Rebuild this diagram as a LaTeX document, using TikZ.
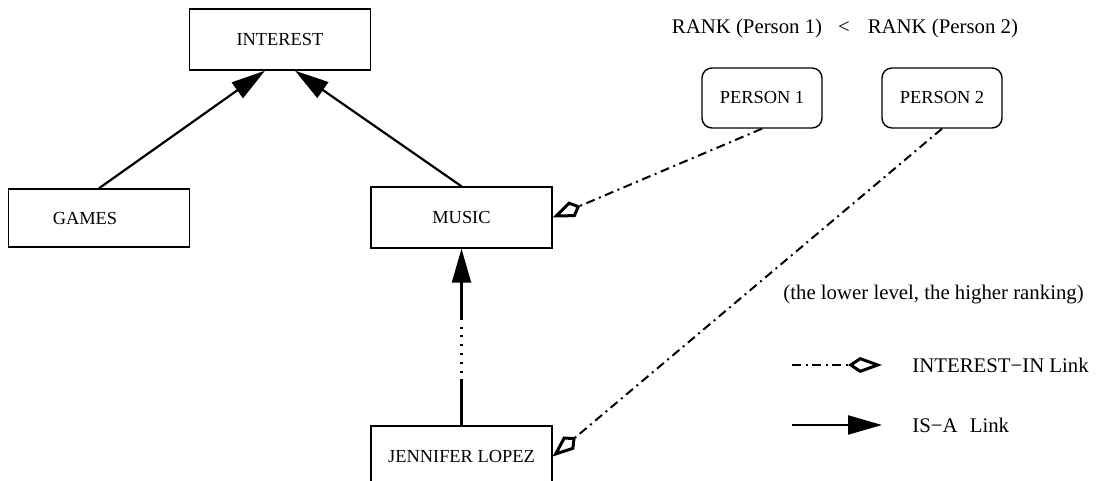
\documentclass[tikz,border=0pt]{standalone}
\usepackage{fontspec}
\setmainfont{Liberation Serif}
\usetikzlibrary{arrows.meta}
\begin{document}
\begin{tikzpicture}[x=0.5pt,y=-0.5pt,
  box/.style={draw, line width=0.7pt, rectangle, minimum width=90.5pt,
    minimum height=30.5pt, inner sep=0pt, font=\fontsize{9.2}{11}\selectfont},
  person/.style={box, rounded corners=5pt, minimum width=60pt, minimum height=30pt},
  txt/.style={inner sep=0pt, font=\fontsize{10.4}{12}\selectfont},
  isa/.style={line width=1.1pt, -{Triangle[length=17pt, width=9.5pt]}},
  interestin/.style={line width=1pt,
    dash pattern=on 4.5pt off 2.3pt on 1pt off 2.3pt,
    -{Kite[open, length=15pt, width=8.5pt, inset=4.5pt, line width=1.5pt]}},
  partial/.style={line width=1.1pt,
    dash pattern=on 23pt off 3.4pt on 1pt off 3.4pt on 1pt off 3.4pt
      on 1pt off 3.4pt on 1pt off 3.4pt on 1pt off 3.4pt on 1pt
      off 3.4pt on 200pt,
    -{Triangle[length=17pt, width=9.5pt]}},
]
% canvas
\fill[white] (0,0) rectangle (1110,481);
\useasboundingbox (0,0) rectangle (1110,481);

% concept hierarchy
\node[box] (interest) at (280,39.5) {INTEREST};
\node[box, minimum height=29pt] (games) at (99,218) {GAMES\hspace*{14pt}};
\node[box] (music) at (461.5,217.5) {MUSIC};
\node[box] (jlo) at (461.5,456.5) {JENNIFER LOPEZ};

% persons
\node[person] (p1) at (762,98) {PERSON 1};
\node[person] (p2) at (942,98) {PERSON 2};

% IS-A links
\draw[isa] (games.north) -- ([xshift=-7.5pt]interest.south);
\draw[isa] (music.north) -- ([xshift=7.5pt]interest.south);
\draw[partial] (jlo.north) -- (music.south);

% INTEREST-IN links
\draw[interestin] (p1.south) -- (music.east);
\draw[interestin] (p2.south) -- (jlo.east);

% annotations
\node[txt] (rank) at (845,28) {RANK (Person 1)\hspace{8pt}<\hspace{9pt}RANK (Person 2)};
\node[txt, anchor=west] (note) at (783,295) {(the lower level, the higher ranking)};

% legend
\coordinate (la1) at (792,365);
\coordinate (lb1) at (882,365);
\coordinate (la2) at (792,425);
\coordinate (lb2) at (882,425);
\draw[interestin, -{Kite[open, length=17pt, width=8pt, inset=6pt, line width=1.5pt]}] (la1) -- (lb1);
\draw[isa] (la2) -- (lb2);
\node[txt, anchor=west] (leg1) at (912,365) {INTEREST−IN Link};
\node[txt, anchor=west] (leg2) at (912,425) {IS−A\hspace{3.5pt} Link};
\end{tikzpicture}
\end{document}
